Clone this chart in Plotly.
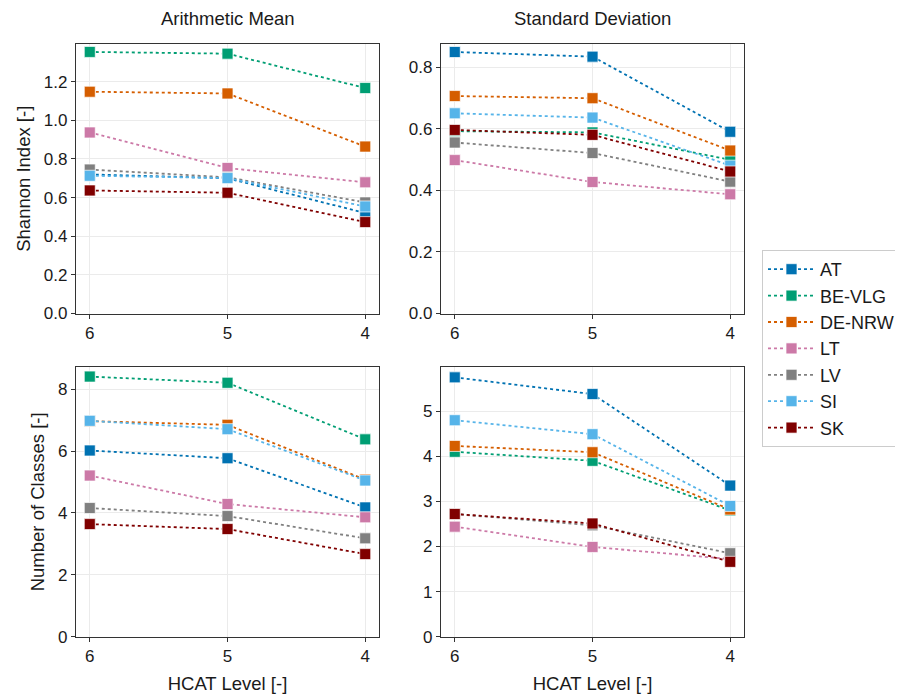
import plotly.graph_objects as go

levels = [6, 5, 4]
countries = ["AT", "BE-VLG", "DE-NRW", "LT", "LV", "SI", "SK"]
colors = ["#0072B2", "#009E73", "#D55E00", "#CC79A7", "#808080", "#56B4E9", "#800000"]

shannon_mean = {
    "AT": [0.72, 0.70, 0.52],
    "BE-VLG": [1.354, 1.345, 1.167],
    "DE-NRW": [1.148, 1.139, 0.864],
    "LT": [0.937, 0.753, 0.679],
    "LV": [0.745, 0.705, 0.575],
    "SI": [0.713, 0.701, 0.554],
    "SK": [0.637, 0.625, 0.473],
}
shannon_sd = {
    "AT": [0.849, 0.834, 0.590],
    "BE-VLG": [0.592, 0.588, 0.499],
    "DE-NRW": [0.706, 0.699, 0.529],
    "LT": [0.498, 0.427, 0.387],
    "LV": [0.555, 0.521, 0.428],
    "SI": [0.650, 0.636, 0.480],
    "SK": [0.596, 0.580, 0.461],
}
classes_mean = {
    "AT": [6.02, 5.77, 4.18],
    "BE-VLG": [8.41, 8.21, 6.38],
    "DE-NRW": [6.97, 6.85, 5.08],
    "LT": [5.21, 4.29, 3.86],
    "LV": [4.16, 3.90, 3.18],
    "SI": [6.98, 6.71, 5.05],
    "SK": [3.64, 3.48, 2.67],
}
classes_sd = {
    "AT": [5.75, 5.38, 3.35],
    "BE-VLG": [4.10, 3.90, 2.80],
    "DE-NRW": [4.23, 4.09, 2.82],
    "LT": [2.44, 1.99, 1.72],
    "LV": [2.72, 2.47, 1.85],
    "SI": [4.80, 4.49, 2.90],
    "SK": [2.72, 2.51, 1.66],
}

panels = [
    (shannon_mean, "x", "y"),
    (shannon_sd, "x2", "y2"),
    (classes_mean, "x3", "y3"),
    (classes_sd, "x4", "y4"),
]

FONT = "Liberation Sans, Arial, sans-serif"
TXT = "#1a1a1a"
# page body has an 8px margin: build figure in page coordinates shifted by OFF
OFF = 8
W, H = 903 - OFF, 694 - OFF

def px(x):
    return (x - OFF) / W

def py(y):
    return 1 - (y - OFF) / H

fig = go.Figure()
for pi, (data, xa, ya) in enumerate(panels):
    for c, col in zip(countries, colors):
        fig.add_trace(go.Scatter(
            x=levels, y=data[c], xaxis=xa, yaxis=ya, name=c,
            mode="lines+markers",
            line=dict(color=col, width=1.8, dash="dot"),
            marker=dict(symbol="square", size=11, color=col,
                        line=dict(color="rgba(255,255,255,0.7)", width=1)),
            showlegend=(pi == 0), legendgroup=c,
        ))

xd1 = [px(76), px(379)]
xd2 = [px(441), px(744)]
yd1 = [py(313.5), py(44)]
yd2 = [py(636.7), py(367)]

def xaxis(domain, anchor, show_title):
    return dict(domain=domain, anchor=anchor, range=[6.1, 3.9], automargin=False,
                tickvals=levels, ticktext=[str(v) for v in levels],
                showline=True, mirror=True, linecolor="#333333", linewidth=1.2,
                ticks="outside", ticklen=4, tickcolor="#333333",
                showgrid=True, gridcolor="#ebebeb", zeroline=False,
                tickfont=dict(size=17, color=TXT),
                title=dict(text="HCAT Level [-]" if show_title else "",
                           font=dict(size=18.5, color=TXT), standoff=12))

def yaxis(domain, anchor, rng, dtick, fmt, title):
    return dict(domain=domain, anchor=anchor, range=rng, dtick=dtick, tick0=0,
                tickformat=fmt, automargin=False,
                showline=True, mirror=True, linecolor="#333333", linewidth=1.2,
                ticks="outside", ticklen=4, tickcolor="#333333",
                showgrid=True, gridcolor="#ebebeb", zeroline=False,
                tickfont=dict(size=17, color=TXT),
                title=dict(text=title, font=dict(size=18.5, color=TXT), standoff=8))

fig.update_layout(
    width=W, height=H,
    margin=dict(l=0, r=0, t=0, b=0, autoexpand=False),
    paper_bgcolor="white", plot_bgcolor="white",
    font=dict(family=FONT, color=TXT),
    xaxis=xaxis(xd1, "y", False),
    xaxis2=xaxis(xd2, "y2", False),
    xaxis3=xaxis(xd1, "y3", True),
    xaxis4=xaxis(xd2, "y4", True),
    yaxis=yaxis(yd1, "x", [0, 1.395], 0.2, ".1f", "Shannon Index [-]"),
    yaxis2=yaxis(yd1, "x2", [0, 0.875], 0.2, ".1f", ""),
    yaxis3=yaxis(yd2, "x3", [0, 8.72], 2, "d", "Number of Classes [-]"),
    yaxis4=yaxis(yd2, "x4", [0, 5.98], 1, "d", ""),
    legend=dict(x=px(762), y=py(250), xanchor="left", yanchor="top",
                bordercolor="#cccccc", borderwidth=1, bgcolor="white",
                font=dict(size=18, color=TXT),
                tracegroupgap=0, itemwidth=47),
    annotations=[
        dict(text="Arithmetic Mean", x=(xd1[0] + xd1[1]) / 2, y=py(18),
             xref="paper", yref="paper", xanchor="center", yanchor="middle",
             showarrow=False, font=dict(size=18.5, color=TXT)),
        dict(text="Standard Deviation", x=(xd2[0] + xd2[1]) / 2, y=py(18),
             xref="paper", yref="paper", xanchor="center", yanchor="middle",
             showarrow=False, font=dict(size=18.5, color=TXT)),
    ],
)

fig.write_html("out.html")
